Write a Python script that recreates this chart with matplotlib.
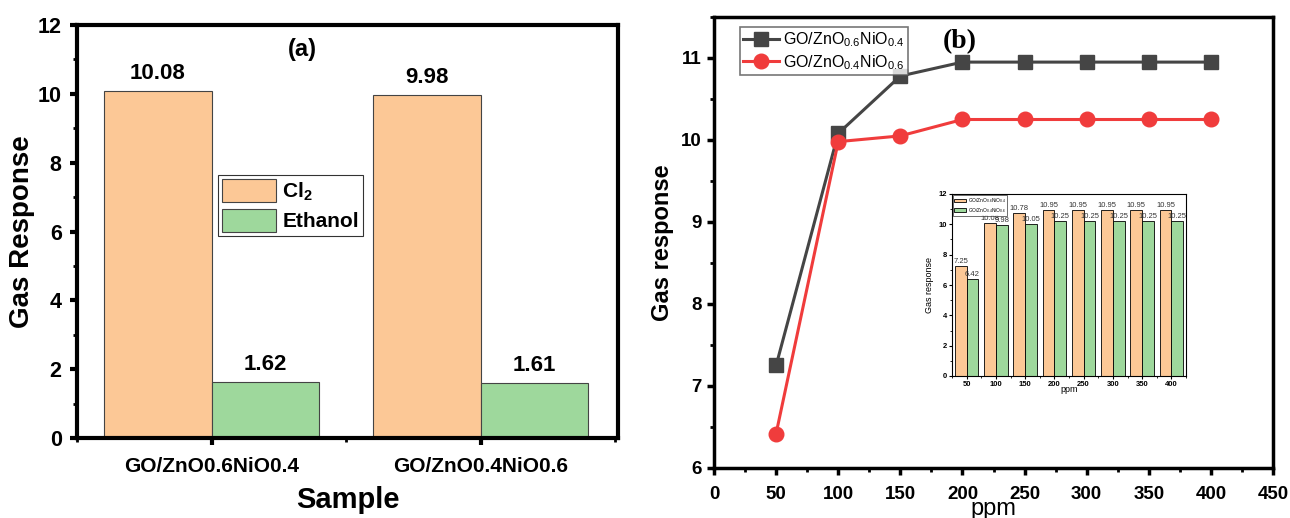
import numpy as np
import matplotlib.pyplot as plt
from matplotlib.ticker import MultipleLocator

plt.rcParams['font.family'] = ['Liberation Sans', 'DejaVu Sans']
plt.rcParams['mathtext.default'] = 'regular'

# (a) selectivity
samples = ['GO/ZnO0.6NiO0.4', 'GO/ZnO0.4NiO0.6']
cl2 = [10.08, 9.98]
ethanol = [1.62, 1.61]

# (b) response vs concentration
ppm = [50, 100, 150, 200, 250, 300, 350, 400]
resp_64 = [7.25, 10.08, 10.78, 10.95, 10.95, 10.95, 10.95, 10.95]
resp_46 = [6.42, 9.98, 10.05, 10.25, 10.25, 10.25, 10.25, 10.25]
lab_64 = 'GO/ZnO$_{0.6}$NiO$_{0.4}$'
lab_46 = 'GO/ZnO$_{0.4}$NiO$_{0.6}$'

c_or = '#FCC896'
c_gr = '#9ED89C'
c_gray = '#454545'
c_red = '#F03C3C'

W, H = 1290, 518
def box(l, t, r, b):
    return [l / W, 1 - b / H, (r - l) / W, (b - t) / H]

fig = plt.figure(figsize=(12.9, 5.18), dpi=100)

# ---------------- panel a ----------------
ax1 = fig.add_axes(box(77, 25, 618, 438))
x = np.arange(len(samples))
w = 0.4
b1 = ax1.bar(x - w/2, cl2, w, color=c_or, edgecolor='#444444', lw=0.8, label='Cl$_2$')
b2 = ax1.bar(x + w/2, ethanol, w, color=c_gr, edgecolor='#444444', lw=0.8, label='Ethanol')
for bars in (b1, b2):
    for r in bars:
        ax1.text(r.get_x() + r.get_width()/2, r.get_height() + 0.2, f'{r.get_height():.2f}',
                 ha='center', va='bottom', fontsize=16, fontweight='bold')
ax1.set_xlim(-0.5, 1.51)
ax1.set_ylim(0, 12)
ax1.set_xticks(x)
ax1.set_xticklabels(samples, fontsize=15, fontweight='bold')
ax1.xaxis.set_minor_locator(MultipleLocator(0.5))
ax1.yaxis.set_major_locator(MultipleLocator(2))
ax1.yaxis.set_minor_locator(MultipleLocator(1))
for lab in ax1.get_yticklabels():
    lab.set_fontsize(15.5)
    lab.set_fontweight('bold')
ax1.tick_params(which='major', direction='out', length=5, width=3, pad=6)
ax1.tick_params(which='minor', direction='out', length=3, width=2)
ax1.tick_params(axis='x', which='major', pad=9)
for s in ax1.spines.values():
    s.set_linewidth(3)
ax1.set_ylabel('Gas Response', fontsize=20, fontweight='bold', labelpad=2)
ax1.set_xlabel('Sample', fontsize=21, fontweight='bold', labelpad=7)
ax1.text(0.416, 0.94, '(a)', transform=ax1.transAxes, ha='center', va='center',
         fontsize=17, fontweight='bold')
leg1 = ax1.legend(loc='upper left', bbox_to_anchor=(0.26, 0.637),
                  prop={'weight': 'bold', 'size': 15}, frameon=True, fancybox=False,
                  edgecolor='black', handlelength=2.6, handleheight=1.3,
                  borderpad=0.2, labelspacing=0.3, handletextpad=0.3, borderaxespad=0)
leg1.get_frame().set_linewidth(0.8)

# ---------------- panel b ----------------
ax2 = fig.add_axes(box(714, 17, 1273, 468))
ax2.plot(ppm, resp_64, '-s', color=c_gray, lw=2.2, ms=10, label=lab_64)
ax2.plot(ppm, resp_46, '-o', color=c_red, lw=2.2, ms=10.5, label=lab_46)
ax2.set_xlim(0, 450)
ax2.set_ylim(6, 11.5)
ax2.xaxis.set_major_locator(MultipleLocator(50))
ax2.xaxis.set_minor_locator(MultipleLocator(25))
ax2.yaxis.set_major_locator(MultipleLocator(1))
ax2.yaxis.set_minor_locator(MultipleLocator(0.5))
for lab in ax2.get_xticklabels() + ax2.get_yticklabels():
    lab.set_fontsize(13.5)
    lab.set_fontweight('bold')
ax2.tick_params(which='major', direction='out', length=5, width=2.5, pad=4)
ax2.tick_params(which='minor', direction='out', length=3, width=2)
ax2.tick_params(axis='x', which='major', pad=8)
for s in ax2.spines.values():
    s.set_linewidth(2.5)
ax2.set_ylabel('Gas response', fontsize=17, fontweight='bold', labelpad=5)
ax2.set_xlabel('ppm', fontsize=17, labelpad=-4)
ax2.text(0.44, 0.945, '(b)', transform=ax2.transAxes, ha='center', va='center',
         fontsize=20, fontweight='bold', family='Liberation Serif')
leg2 = ax2.legend(loc='upper left', bbox_to_anchor=(0.047, 0.978), fontsize=11.5,
                  frameon=True, fancybox=False, edgecolor='#555555', handlelength=2.2,
                  borderpad=0.2, labelspacing=0.25, handletextpad=0.3, borderaxespad=0)
leg2.get_frame().set_linewidth(1.2)

# inset bar chart
ax3 = fig.add_axes(box(952, 194, 1186, 376))
xi = np.arange(len(ppm))
i1 = ax3.bar(xi - 0.2, resp_64, 0.4, color=c_or, edgecolor='black', lw=0.6, label=lab_64)
i2 = ax3.bar(xi + 0.2, resp_46, 0.4, color=c_gr, edgecolor='black', lw=0.6, label=lab_46)
for bars in (i1, i2):
    for r in bars:
        ax3.text(r.get_x() + r.get_width()/2, r.get_height() + 0.05, f'{r.get_height():.2f}',
                 ha='center', va='bottom', fontsize=5.5, color='#333333')
ax3.set_xlim(-0.5, 7.5)
ax3.set_ylim(0, 12)
ax3.set_xticks(xi)
ax3.set_xticklabels([str(p) for p in ppm])
ax3.yaxis.set_major_locator(MultipleLocator(2))
ax3.yaxis.set_minor_locator(MultipleLocator(1))
ax3.xaxis.set_minor_locator(MultipleLocator(0.5))
ax3.xaxis.set_minor_formatter(plt.NullFormatter())
for lab in ax3.get_xticklabels() + ax3.get_yticklabels():
    lab.set_fontsize(5.5)
    lab.set_fontweight('bold')
ax3.tick_params(which='major', direction='out', length=2, width=0.8, pad=1.5)
ax3.tick_params(which='minor', direction='out', length=1.2, width=0.6)
for s in ax3.spines.values():
    s.set_linewidth(0.8)
ax3.set_ylabel('Gas response', fontsize=6.5, labelpad=3)
ax3.set_xlabel('ppm', fontsize=6.5, labelpad=-2)
leg3 = ax3.legend(loc='upper left', fontsize=3.5, frameon=True, fancybox=False,
                  edgecolor='black', handlelength=2.5, borderpad=0.2, labelspacing=0.2,
                  handletextpad=0.3, borderaxespad=0.2)
leg3.get_frame().set_linewidth(0.5)

fig.savefig('out.png', dpi=100)
